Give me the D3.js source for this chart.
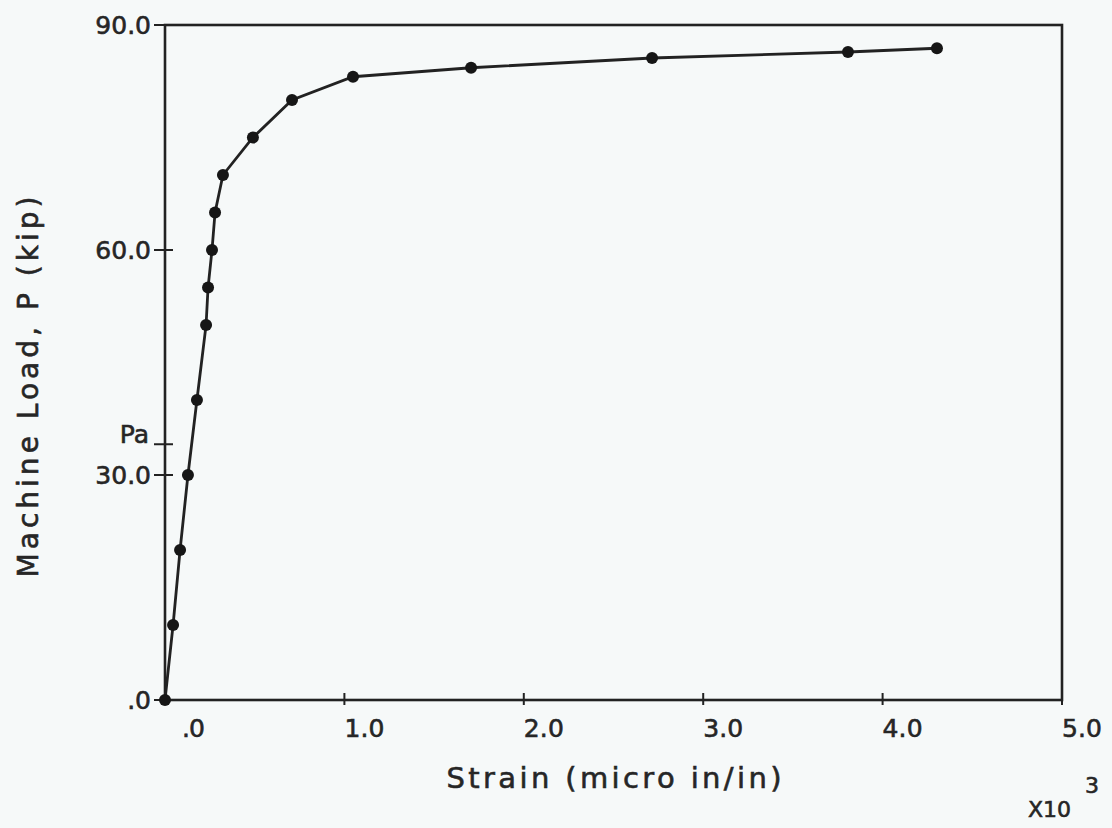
<!DOCTYPE html>
<html>
<head>
<meta charset="utf-8">
<script src="https://cdn.jsdelivr.net/npm/d3@7.9.0/dist/d3.min.js"></script>
<style>
  body { margin: 0; background: #f6f9f9; }
  svg { display: block; }
  text { font-family: "DejaVu Sans", sans-serif; fill: #262626; stroke: #262626; stroke-width: 0.6; }
</style>
</head>
<body>
<svg width="1112" height="828"></svg>
<script>
// strain (x10^3 micro in/in) and machine load (kip)
const strain = [0, 0.045, 0.084, 0.128, 0.178, 0.229, 0.240, 0.262, 0.279, 0.323, 0.49, 0.708, 1.048, 1.706, 2.715, 3.807, 4.303];
const load = [0, 10, 20, 30, 40, 50, 55, 60, 65, 70, 75, 80, 83.1, 84.3, 85.6, 86.4, 86.9];

const xTicks = [0, 1, 2, 3, 4, 5];
const xTickLabels = ['.0', '1.0', '2.0', '3.0', '4.0', '5.0'];
const yTicks = [0, 30, 60, 90];
const yTickLabels = ['.0', '30.0', '60.0', '90.0'];
const paValue = 34.1;

const ink = '#222';
const svg = d3.select('svg');

let x = d3.scaleLinear().domain([0, 5]).range([165, 1062]);
let y = d3.scaleLinear().domain([0, 90]).range([700, 25]);

// frame
svg.append('rect')
  .attr('x', x(0)).attr('y', y(90))
  .attr('width', x(5) - x(0)).attr('height', y(0) - y(90))
  .attr('fill', 'none').attr('stroke', ink).attr('stroke-width', 2.6);

// x ticks
xTicks.forEach((t, i) => {
  svg.append('line')
    .attr('x1', x(t)).attr('x2', x(t))
    .attr('y1', y(0) - 7).attr('y2', y(0) + 5)
    .attr('stroke', ink).attr('stroke-width', 2);
  svg.append('text')
    .attr('x', x(t) + (i === 0 ? 17 : 0))
    .attr('y', 737)
    .attr('font-size', 25)
    .attr('textLength', i === 0 ? 23 : 40)
    .text(xTickLabels[i]);
});

// y ticks
yTicks.forEach((t, i) => {
  svg.append('line')
    .attr('x1', x(0) - 11).attr('x2', x(0) + 8)
    .attr('y1', y(t)).attr('y2', y(t))
    .attr('stroke', ink).attr('stroke-width', 2);
  svg.append('text')
    .attr('x', 151)
    .attr('y', y(t))
    .attr('dy', '0.36em')
    .attr('text-anchor', 'end')
    .attr('font-size', 25)
    .text(yTickLabels[i]);
});

// Pa marker
svg.append('line')
  .attr('x1', x(0) - 11).attr('x2', x(0) + 8)
  .attr('y1', y(paValue)).attr('y2', y(paValue))
  .attr('stroke', ink).attr('stroke-width', 2);
svg.append('text')
  .attr('x', 149).attr('y', y(paValue) - 1)
  .attr('text-anchor', 'end')
  .attr('font-size', 25)
  .text('Pa');

// curve
let pts = strain.map((s, i) => [s, load[i]]);
let line = d3.line().x(d => x(d[0])).y(d => y(d[1]));
svg.append('path')
  .attr('d', line(pts))
  .attr('fill', 'none')
  .attr('stroke', ink)
  .attr('stroke-width', 2.8);

svg.selectAll('circle.pt')
  .data(pts)
  .join('circle')
  .attr('class', 'pt')
  .attr('cx', d => x(d[0]))
  .attr('cy', d => y(d[1]))
  .attr('r', 6)
  .attr('fill', '#161616');

// axis titles
svg.append('text')
  .attr('x', 614).attr('y', 788)
  .attr('text-anchor', 'middle')
  .attr('font-size', 29)
  .attr('textLength', 335)
  .text('Strain (micro in/in)');

svg.append('text')
  .attr('transform', 'translate(38,387) rotate(-90)')
  .attr('text-anchor', 'middle')
  .attr('font-size', 28)
  .attr('textLength', 381)
  .text('Machine Load, P (kip)');

// exponent
svg.append('text')
  .attr('x', 1028).attr('y', 817)
  .attr('font-size', 22)
  .text('X10');
svg.append('text')
  .attr('x', 1085).attr('y', 793)
  .attr('font-size', 22)
  .text('3');
</script>
</body>
</html>
